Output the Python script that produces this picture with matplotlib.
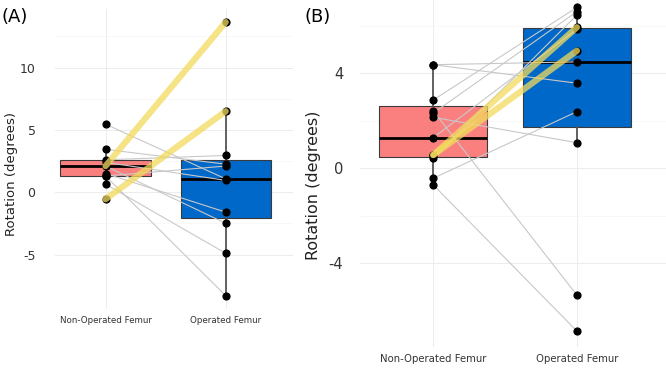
import matplotlib.pyplot as plt

plt.rcParams["axes.unicode_minus"] = False

# ── Data ─────────────────────────────────────────────────────

groups = ["Non-Operated Femur", "Operated Femur"]

# Panel A: paired rotations (degrees)
a_nonop = [5.46, 3.44, 2.6, 2.4, 2.1, 1.5, 1.3, 0.65, -0.56, 2.1, 1.3]
a_op    = [1.07, 2.25, 2.95, 0.95, 13.65, -1.6, -8.3, -4.9, 6.5, -2.5, 2.1]
a_highlight = [4, 8]

# Panel A box stats: [whisker low, Q1, median, Q3, whisker high]
a_box_nonop = [0.65, 1.3, 2.1, 2.58, 3.44]
a_box_op    = [-8.3, -2.04, 1.1, 2.58, 6.5]

# Panel B: paired rotations (degrees)
b_nonop = [4.37, 4.37, 2.88, 2.42, 2.33, 2.15, 1.29, 0.56, 0.56, 0.42, -0.42, -0.7]
b_op    = [4.49, 3.59, 6.79, -5.35, 6.61, 1.08, 5.87, 5.95, 4.96, 6.47, 2.39, -6.87]
b_highlight = [7, 8]

b_box_nonop = [-0.7, 0.49, 1.29, 2.63, 4.37]
b_box_op    = [1.08, 1.76, 4.47, 5.91, 6.79]

a_yticks = [-5, 0, 5, 10]
b_yticks = [-4, 0, 4]

BOX_COLORS = ["#FA8080", "#0068C8"]
YELLOW     = "#F2DA5E"


def box_stats(vals, label):
    lo, q1, med, q3, hi = vals
    return {"whislo": lo, "q1": q1, "med": med, "q3": q3, "whishi": hi,
            "label": label, "fliers": []}


def draw_panel(ax, nonop, op, highlight, box_nonop, box_op,
               yticks, tick_fs, xtick_fs, ylabel_fs, ypad):
    stats = [box_stats(box_nonop, groups[0]), box_stats(box_op, groups[1])]
    bp = ax.bxp(stats, positions=[1, 2], widths=0.75, patch_artist=True,
                showcaps=False, showfliers=False,
                boxprops=dict(edgecolor="#3a3a3a", linewidth=0.8),
                medianprops=dict(color="black", linewidth=2),
                whiskerprops=dict(color="#555555", linewidth=1.3),
                zorder=2)
    for patch, c in zip(bp["boxes"], BOX_COLORS):
        patch.set_facecolor(c)

    # paired grey lines
    for i, (y1, y2) in enumerate(zip(nonop, op)):
        if i in highlight:
            continue
        ax.plot([1, 2], [y1, y2], color="#c8c8c8", linewidth=0.8, zorder=3)

    ax.scatter([1] * len(nonop), nonop, s=24, color="black", zorder=4)
    ax.scatter([2] * len(op), op, s=24, color="black", zorder=4)

    # highlighted pairs
    for i in highlight:
        ax.plot([1, 2], [nonop[i], op[i]], color=YELLOW, linewidth=4.5,
                alpha=0.75, solid_capstyle="round", zorder=5)

    ax.set_yticks(yticks)
    ax.set_yticks([t + (yticks[1] - yticks[0]) / 2 for t in yticks], minor=True)
    ax.set_xticks([1, 2])
    ax.set_xticklabels(groups, fontsize=xtick_fs, color="#333333")
    ax.tick_params(axis="y", labelsize=tick_fs, labelcolor="#333333",
                   length=0, pad=ypad)
    ax.tick_params(axis="x", length=0, pad=5)
    ax.tick_params(which="minor", length=0)
    ax.grid(which="major", color="#ececec", linewidth=0.7)
    ax.grid(which="minor", color="#f5f5f5", linewidth=0.5)
    ax.set_axisbelow(True)
    for s in ax.spines.values():
        s.set_visible(False)
    ax.set_ylabel("Rotation (degrees)", fontsize=ylabel_fs, color="#222222")


fig = plt.figure(figsize=(6.66, 3.68), dpi=100)

ax_a = fig.add_axes([0.0826, 0.160, 0.3574, 0.8155])
draw_panel(ax_a, a_nonop, a_op, a_highlight, a_box_nonop, a_box_op,
           a_yticks, 9, 6.3, 9.5, 14)
ax_a.set_xlim(0.58, 2.56)
ax_a.set_ylim(-9.38, 14.70)
ax_a.yaxis.set_label_coords(-0.155, 0.45)

ax_b = fig.add_axes([0.5405, 0.057, 0.4595, 0.943])
draw_panel(ax_b, b_nonop, b_op, b_highlight, b_box_nonop, b_box_op,
           b_yticks, 10.5, 7.3, 11.5, 12)
ax_b.set_xlim(0.49, 2.62)
ax_b.set_ylim(-7.54, 7.10)
ax_b.yaxis.set_label_coords(-0.128, 0.467)

fig.text(0.003, 0.955, "(A)", fontsize=13, va="center", ha="left")
fig.text(0.457, 0.955, "(B)", fontsize=13, va="center", ha="left")

plt.savefig("out.png", dpi=100)
plt.close()
